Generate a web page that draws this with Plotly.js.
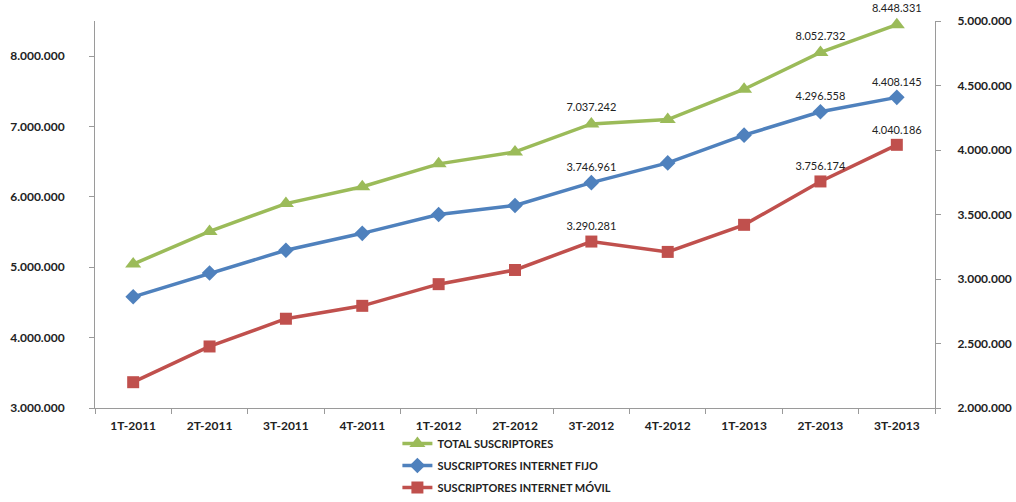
<!DOCTYPE html>
<html>
<head>
<meta charset="utf-8">
<script src="https://cdn.plot.ly/plotly-3.0.1.min.js"></script>
<style>html,body{margin:0;padding:0;background:#fff;}#chart{width:1016px;height:502px;}</style>
</head>
<body>
<div id="chart"></div>
<script>
const categories = ["1T-2011","2T-2011","3T-2011","4T-2011","1T-2012","2T-2012","3T-2012","4T-2012","1T-2013","2T-2013","3T-2013"];
const totalSuscriptores = [5045000, 5510000, 5905000, 6145000, 6470000, 6640000, 7037242, 7100000, 7530000, 8052732, 8448331];
const internetFijo = [2862000, 3046000, 3223000, 3354000, 3500000, 3570000, 3746961, 3900000, 4115000, 4296558, 4408145];
const internetMovil = [2200000, 2477000, 2692000, 2792000, 2960000, 3070000, 3290281, 3210000, 3420000, 3756174, 4040186];
const labeledIndices = [6, 9, 10];
const seriesNames = ["TOTAL SUSCRIPTORES", "SUSCRIPTORES INTERNET FIJO", "SUSCRIPTORES INTERNET MÓVIL"];

function fmt(v){ return String(Math.round(v)).replace(/\B(?=(\d{3})+(?!\d))/g, "."); }
function labels(arr){ return arr.map((v,i)=> labeledIndices.includes(i) ? fmt(v) : ""); }

const font = "Lato, 'Open Sans', sans-serif";
const labelFont = {family: font, size: 11, color: "#222"};

const traces = [
  {x: categories, y: totalSuscriptores, name: seriesNames[0], yaxis: "y", legendgroup: "a",
   mode: "lines+markers+text", text: labels(totalSuscriptores), textposition: "top center", textfont: labelFont,
   line: {color: "#9BBB59", width: 3.5}, marker: {symbol: "triangle-up", size: 14, color: "#9BBB59"}, cliponaxis: false},
  {x: categories, y: internetFijo, name: seriesNames[1], yaxis: "y2", legendgroup: "b",
   mode: "lines+markers+text", text: labels(internetFijo), textposition: "top center", textfont: labelFont,
   line: {color: "#4F81BD", width: 3.5}, marker: {symbol: "diamond", size: 12, color: "#4F81BD"}, cliponaxis: false},
  {x: categories, y: internetMovil, name: seriesNames[2], yaxis: "y2", legendgroup: "c",
   mode: "lines+markers+text", text: labels(internetMovil), textposition: "top center", textfont: labelFont,
   line: {color: "#C0504D", width: 3.5}, marker: {symbol: "square", size: 12, color: "#C0504D"}, cliponaxis: false}
];

const tickFont = {family: font, size: 12, color: "#222", weight: "bold"};
// plot area: top at 21px, bottom at 408px of a 502px-high page (margin t=21, b=0)
const yDomain = [94 / 481, 1];

const layout = {
  width: 1016, height: 502,
  margin: {l: 95, r: 81, t: 21, b: 0},
  paper_bgcolor: "#fff", plot_bgcolor: "#fff",
  separators: ",.",
  showlegend: true,
  legend: {orientation: "v", x: 0.36, xanchor: "left", y: 0, yanchor: "bottom",
           font: {family: font, size: 11, color: "#222", weight: "bold"},
           traceorder: "grouped", tracegroupgap: 3, bgcolor: "rgba(0,0,0,0)"},
  xaxis: {type: "category", range: [-0.5, 10.5], showline: true, linecolor: "#9a9a9a", linewidth: 1,
          ticks: "outside", tickson: "boundaries", ticklen: 5, tickcolor: "#9a9a9a",
          showgrid: false, zeroline: false, tickfont: tickFont, ticklabelstandoff: 7, automargin: false},
  yaxis: {domain: yDomain, range: [3000000, 8500000], dtick: 1000000, tick0: 3000000, tickformat: ",d",
          showline: true, linecolor: "#9a9a9a", ticks: "outside", ticklen: 5, tickcolor: "#9a9a9a",
          showgrid: false, zeroline: false, tickfont: tickFont, ticklabelstandoff: 22, automargin: false},
  yaxis2: {domain: yDomain, range: [2000000, 5000000], dtick: 500000, tick0: 2000000, tickformat: ",d", overlaying: "y", side: "right",
           showline: true, linecolor: "#9a9a9a", ticks: "outside", ticklen: 5, tickcolor: "#9a9a9a",
           showgrid: false, zeroline: false, tickfont: tickFont, ticklabelstandoff: 14, automargin: false}
};

Plotly.newPlot("chart", traces, layout, {displayModeBar: false, staticPlot: true});
</script>
</body>
</html>
